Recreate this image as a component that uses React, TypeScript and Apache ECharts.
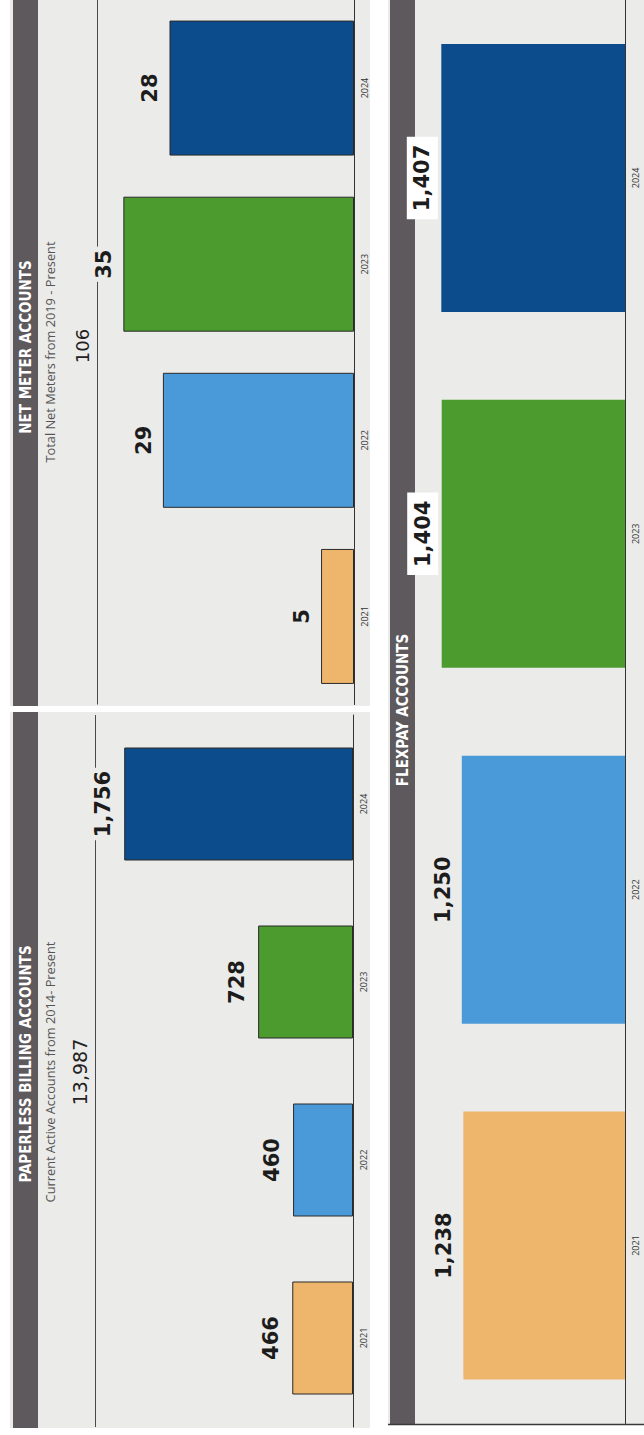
import React, { useEffect, useRef } from 'react';
import * as echarts from 'echarts';

const years = ['2021', '2022', '2023', '2024'];
const netMeterValues = [5, 29, 35, 28];
const paperlessValues = [466, 460, 728, 1756];
const flexpayValues = [1238, 1250, 1404, 1407];
const yearColors = ['#EEB56C', '#4A9ADA', '#4B9B2F', '#0C4C8C'];
const panelTitles = ['NET METER ACCOUNTS', 'PAPERLESS BILLING ACCOUNTS', 'FLEXPAY ACCOUNTS'];
const subtitles = ['Total Net Meters from 2019 - Present', 'Current Active Accounts from 2014- Present'];
const totals = ['106', '13,987'];

const PANEL_BG = '#EBEBE9';
const HEADER_BG = '#5E595D';
const NARROW = "'Liberation Sans Narrow', 'DejaVu Sans Condensed', 'Roboto Condensed', 'Liberation Sans', sans-serif";
const LABEL_FONT = "'DejaVu Sans', 'Liberation Sans', sans-serif";
const SMALL_FONT = "'Open Sans', 'Noto Sans', sans-serif";

const fmt = (v: number) => v.toLocaleString('en-US');

function barLabel(distance: number) {
  return {
    show: true,
    position: 'left',
    distance,
    rotate: 90,
    align: 'center',
    verticalAlign: 'middle',
    fontFamily: LABEL_FONT,
    fontWeight: 'bold',
    fontSize: 21,
    color: '#1C1C1C',
    formatter: (p: any) => fmt(p.value),
  };
}

function valueAxis(gridIndex: number, max: number, showLine: boolean) {
  return {
    gridIndex,
    type: 'value',
    inverse: true,
    min: 0,
    max,
    interval: max,
    axisLabel: { show: false },
    axisLine: { show: false },
    axisTick: { show: false },
    splitLine: { show: showLine, lineStyle: { color: '#4A4A4A', width: 1 } },
  };
}

function catAxis(gridIndex: number) {
  return {
    gridIndex,
    type: 'category',
    data: years,
    position: 'right',
    axisLine: { show: true, onZero: false, lineStyle: { color: '#333', width: 1 } },
    axisTick: { show: false },
    axisLabel: { rotate: 90, fontSize: 9, color: '#333', margin: 6, fontFamily: SMALL_FONT },
  };
}

function rotText(x: number, y: number, text: string, size: number, weight: string, color: string, family: string) {
  return {
    type: 'text',
    x,
    y,
    rotation: Math.PI / 2,
    z: 100,
    style: {
      text,
      fill: color,
      fontSize: size,
      fontWeight: weight,
      fontFamily: family,
      align: 'center',
      verticalAlign: 'middle',
      textAlign: 'center',
      textVerticalAlign: 'middle',
    },
  };
}

export default function App() {
  const ref = useRef<HTMLDivElement>(null);
  useEffect(() => {
    if (!ref.current) return;
    const chart = echarts.init(ref.current, null, { renderer: 'svg' });
    const option: any = {
      animation: false,
      backgroundColor: '#FFFFFF',
      grid: [
        { left: 97, width: 257, top: -11.5, height: 716 },
        { left: 95, width: 258, top: 715, height: 712 },
        { left: 390, width: 235, top: -4.5, height: 1428 },
      ],
      xAxis: [valueAxis(0, 39, true), valueAxis(1, 1980, true), valueAxis(2, 1800, false)],
      yAxis: [catAxis(0), catAxis(1), catAxis(2)],
      graphic: [
        { type: 'rect', z: -100, shape: { x: 10, y: 0, width: 360, height: 706 }, style: { fill: PANEL_BG } },
        { type: 'rect', z: -100, shape: { x: 10, y: 712, width: 360, height: 716 }, style: { fill: PANEL_BG } },
        { type: 'rect', z: -100, shape: { x: 388, y: 0, width: 256, height: 1424 }, style: { fill: PANEL_BG } },
        { type: 'rect', z: -90, shape: { x: 13, y: 0, width: 25, height: 706 }, style: { fill: HEADER_BG } },
        { type: 'rect', z: -90, shape: { x: 13, y: 712, width: 25, height: 716 }, style: { fill: HEADER_BG } },
        { type: 'rect', z: -90, shape: { x: 390, y: 0, width: 25, height: 1424 }, style: { fill: HEADER_BG } },
        { type: 'line', z: -80, shape: { x1: 388, y1: 1424.5, x2: 644, y2: 1424.5 }, style: { stroke: '#3A3A3A', lineWidth: 1.5 } },
        rotText(25.5, 347, panelTitles[0], 15, 'bold', '#FFFFFF', NARROW),
        rotText(25.5, 1064, panelTitles[1], 15, 'bold', '#FFFFFF', NARROW),
        rotText(403, 710, panelTitles[2], 15, 'bold', '#FFFFFF', NARROW),
        rotText(50, 352, subtitles[0], 12.8, 'normal', '#555555', SMALL_FONT),
        rotText(50, 1072, subtitles[1], 12.8, 'normal', '#555555', SMALL_FONT),
        rotText(82, 346, totals[0], 18, 'normal', '#222222', LABEL_FONT),
        rotText(80, 1072, totals[1], 19, 'normal', '#222222', LABEL_FONT),
      ],
      series: [
        {
          type: 'bar',
          xAxisIndex: 0,
          yAxisIndex: 0,
          barWidth: 135,
          data: netMeterValues.map((v, i) => ({ value: v, itemStyle: { color: yearColors[i] } })),
          itemStyle: { borderColor: '#2A2A2A', borderWidth: 1 },
          label: { ...barLabel(19), backgroundColor: PANEL_BG, padding: [0, 3] },
        },
        {
          type: 'bar',
          xAxisIndex: 1,
          yAxisIndex: 1,
          barWidth: 113,
          data: paperlessValues.map((v, i) => ({ value: v, itemStyle: { color: yearColors[i] } })),
          itemStyle: { borderColor: '#2A2A2A', borderWidth: 1 },
          label: { ...barLabel(21), backgroundColor: PANEL_BG, padding: [0, 3] },
        },
        {
          type: 'bar',
          xAxisIndex: 2,
          yAxisIndex: 2,
          barWidth: 268,
          data: flexpayValues.map((v, i) => ({
            value: v,
            itemStyle: { color: yearColors[i] },
            label: i >= 2 ? { backgroundColor: '#FFFFFF', padding: [5, 8] } : {},
          })),
          label: barLabel(19),
        },
      ],
    };
    chart.setOption(option);
    return () => chart.dispose();
  }, []);
  return (
    <div
      ref={ref}
      style={{ position: 'absolute', left: 0, top: 0, width: 644, height: 1435, overflow: 'hidden' }}
    />
  );
}
